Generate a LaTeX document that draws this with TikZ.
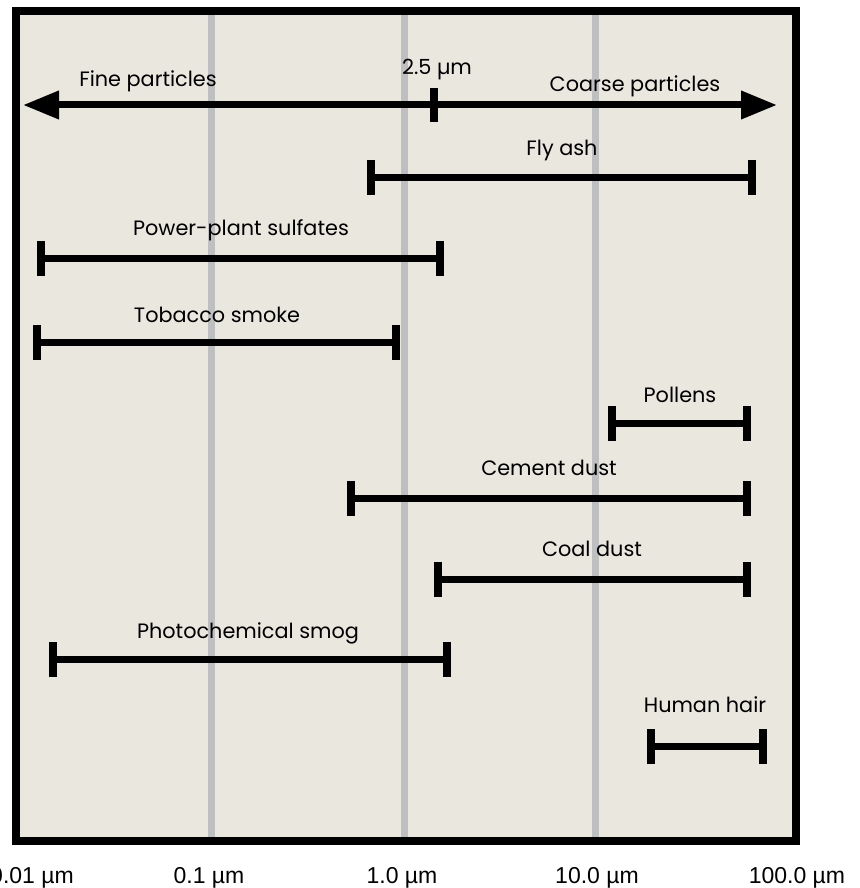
\documentclass[tikz,border=0pt]{standalone}
\usepackage{fontspec}
\usetikzlibrary{arrows.meta}
\newfontfamily\rangefont{Poppins}
\newfontfamily\axisfont{Liberation Sans}
\definecolor{panel}{HTML}{EAE7DF}
\definecolor{gridgrey}{HTML}{BEBFC1}

\begin{document}
\begin{tikzpicture}[
  x=1pt, y=-1pt,
  gridline/.style={draw=gridgrey, line width=7pt},
  sizebar/.style={line width=7pt},
  endtick/.style={line width=8pt},
  rangelabel/.style={anchor=base, inner sep=0pt, font=\rangefont\fontsize{20.8}{24}\selectfont},
  axislabel/.style={anchor=base, inner sep=0pt, font=\axisfont\fontsize{23}{26}\selectfont}
]
  \useasboundingbox (0,0) rectangle (859,888);
  % panel and decade lines
  \fill[panel] (15.5,11) rectangle (795.5,841);
  \foreach \gx in {211,404,595}
    \draw[gridline] (\gx,11) -- (\gx,841);
  \draw[line width=8pt] (15.5,11) rectangle (795.5,841);

  % fine / coarse arrow
  \coordinate (fine) at (23,105);
  \coordinate (coarse) at (777,105);
  \coordinate (cut) at (434,105);
  \draw[sizebar, {Triangle[length=36pt,width=27pt]}-{Triangle[length=36pt,width=27pt]}] (fine) -- (coarse);
  \draw[endtick] ([yshift=-17pt]cut) -- ([yshift=17pt]cut);
  \node[rangelabel] (finelabel) at (148,87) {Fine particles};
  \node[rangelabel] (cutlabel) at (437,75) {2.5 µm};
  \node[rangelabel] (coarselabel) at (635,92) {Coarse particles};

  % size ranges
  \foreach \id/\y/\xa/\xb/\lx/\ly/\txt in {
      flyash/177/371/752/562/155/Fly ash,
      sulfates/258/40.5/440/241/235/Power-plant sulfates,
      tobacco/342/36.5/395.5/217/322/Tobacco smoke,
      pollens/423/612/747/680/402/Pollens,
      cement/498/351/747/549/475/Cement dust,
      coal/579/438/747/592/556/Coal dust,
      smog/659/53/447/248/638/Photochemical smog,
      hair/746/651/763/705/712/Human hair} {
    \coordinate (\id-a) at (\xa,\y);
    \coordinate (\id-b) at (\xb,\y);
    \draw[sizebar] (\id-a) -- (\id-b);
    \draw[endtick] ([yshift=-17.5pt]\id-a) -- ([yshift=17.5pt]\id-a);
    \draw[endtick] ([yshift=-17.5pt]\id-b) -- ([yshift=17.5pt]\id-b);
    \node[rangelabel] (\id-label) at (\lx,\ly) {\txt};
  }

  % axis labels
  \node[axislabel] (ax0) at (32,883) {0.01 µm};
  \node[axislabel] (ax1) at (209,883) {0.1 µm};
  \node[axislabel] (ax2) at (402,883) {1.0 µm};
  \node[axislabel] (ax3) at (597,883) {10.0 µm};
  \node[axislabel] (ax4) at (797,883) {100.0 µm};
\end{tikzpicture}
\end{document}
